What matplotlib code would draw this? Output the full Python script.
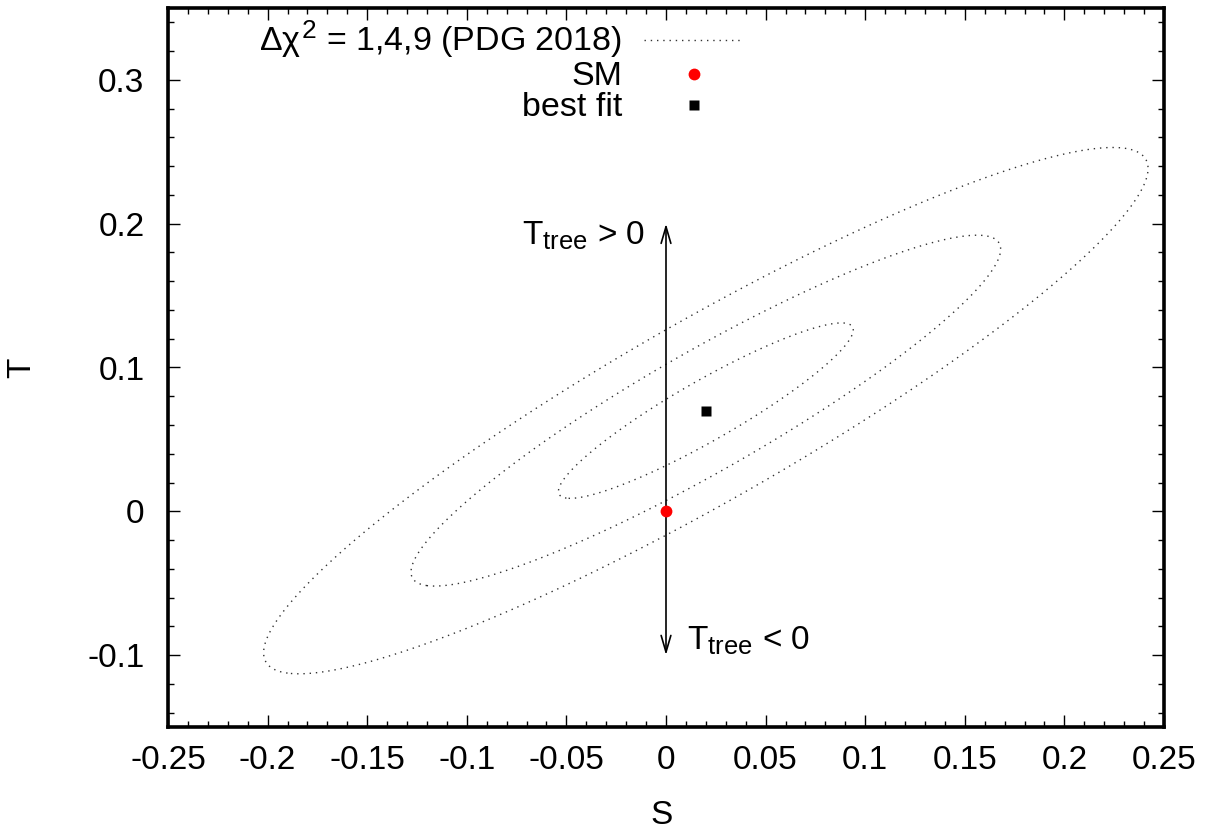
import numpy as np
import matplotlib
matplotlib.use("Agg")
import matplotlib.pyplot as plt
import matplotlib._mathtext as mathtext_impl
from matplotlib.ticker import FixedLocator, MultipleLocator, FixedFormatter
from matplotlib.lines import Line2D

plt.rcParams["font.family"] = ["Liberation Sans", "DejaVu Sans"]
plt.rcParams["mathtext.fontset"] = "custom"
plt.rcParams["mathtext.rm"] = "Liberation Sans"
plt.rcParams["mathtext.it"] = "Liberation Sans"
plt.rcParams["mathtext.bf"] = "Liberation Sans:bold"
# slightly larger sub/superscripts
mathtext_impl.SHRINK_FACTOR = 0.77

# Electroweak oblique-parameter fit (S, T with U = 0)
fit_S = 0.02
fit_T = 0.07
sigma_S = 0.074
sigma_T = 0.061
rho_ST = 0.92
delta_chi2_levels = [1, 4, 9]

# Standard Model point
sm_S = [0.0]
sm_T = [0.0]

# Direction of the tree-level T shift
arrow_S = 0.0
arrow_T = (-0.1, 0.2)

x_ticks = [-0.25, -0.2, -0.15, -0.1, -0.05, 0.0, 0.05, 0.1, 0.15, 0.2, 0.25]
x_tick_labels = ["-0.25", "-0.2", "-0.15", "-0.1", "-0.05", "0", "0.05", "0.1", "0.15", "0.2", "0.25"]
y_ticks = [-0.1, 0.0, 0.1, 0.2, 0.3]
y_tick_labels = ["-0.1", "0", "0.1", "0.2", "0.3"]

FS = 24
LFS = 24.5
W, H = 1207, 830
fig = plt.figure(figsize=(W / 100, H / 100), dpi=100)
ax = fig.add_axes([168 / W, 1 - 727 / H, (1164 - 168) / W, (727 - 8) / H])
ax.set_xlim(-0.25, 0.25)
ax.set_ylim(-0.15, 0.35)

# chi^2 surface of the correlated Gaussian fit
s = np.linspace(-0.25, 0.25, 601)
t = np.linspace(-0.15, 0.35, 601)
SS, TT = np.meshgrid(s, t)
u = (SS - fit_S) / sigma_S
v = (TT - fit_T) / sigma_T
chi2 = (u ** 2 - 2 * rho_ST * u * v + v ** 2) / (1 - rho_ST ** 2)
dotted = (0, (1.0, 3.5))
contour_color = "#333333"
ax.contour(SS, TT, chi2, levels=delta_chi2_levels, colors=contour_color,
           linewidths=1.0, linestyles=[dotted])

ax.plot(sm_S, sm_T, "o", color="red", ms=8.5, mec="none", zorder=5)
ax.plot([fit_S], [fit_T], "s", color="black", ms=7.8, mec="none", zorder=5)

ax.annotate("", xy=(arrow_S, arrow_T[1]), xytext=(arrow_S, arrow_T[0]),
            arrowprops=dict(arrowstyle="<->,head_length=1.2,head_width=0.35",
                            lw=1.2, color="black", shrinkA=0, shrinkB=0,
                            mutation_scale=10))
ax.text(-0.0105, 0.1852, r"T$_{\rm tree}$ > 0", ha="right", va="baseline", fontsize=FS)
ax.text(0.0105, -0.0965, r"T$_{\rm tree}$ < 0", ha="left", va="baseline", fontsize=FS)

# Axes styling
ax.xaxis.set_major_locator(FixedLocator(x_ticks))
ax.xaxis.set_major_formatter(FixedFormatter(x_tick_labels))
ax.yaxis.set_major_locator(FixedLocator(y_ticks))
ax.yaxis.set_major_formatter(FixedFormatter(y_tick_labels))
ax.xaxis.set_minor_locator(MultipleLocator(0.01))
ax.yaxis.set_minor_locator(MultipleLocator(0.02))
ax.tick_params(which="both", direction="in", top=True, right=True, width=1.0,
               labelsize=FS, colors="black")
ax.tick_params(which="major", length=8.5)
ax.tick_params(which="minor", length=4.5)
ax.tick_params(axis="x", which="major", pad=13)
ax.tick_params(axis="y", which="major", pad=17)
for sp in ax.spines.values():
    sp.set_linewidth(2.6)

ax.set_xlabel("S", fontsize=FS)
ax.set_ylabel("T", fontsize=FS)
ax.xaxis.set_label_coords((662 - 168) / 996, (727 - 815) / 719)
ax.xaxis.label.set_va("center")
ax.yaxis.set_label_coords((22 - 168) / 996, (727 - 368) / 719)
ax.yaxis.label.set_va("center")

handles = [
    Line2D([], [], color=contour_color, lw=1.0, linestyle=dotted),
    Line2D([], [], marker="o", color="red", ms=8.5, mec="none", linestyle="none"),
    Line2D([], [], marker="s", color="black", ms=7.8, mec="none", linestyle="none"),
]
labels = [r"$\Delta\chi^2$ = 1,4,9 (PDG 2018)", "SM", "best fit"]
ax.legend(handles, labels, loc="upper right", bbox_to_anchor=(743 / W, 1 - 18 / H),
          bbox_transform=fig.transFigure, frameon=False, markerfirst=False,
          fontsize=LFS, borderpad=0, borderaxespad=0, handlelength=2.9,
          handletextpad=0.65, labelspacing=0.02, handleheight=0.5)

fig.savefig("out.png", dpi=100)
